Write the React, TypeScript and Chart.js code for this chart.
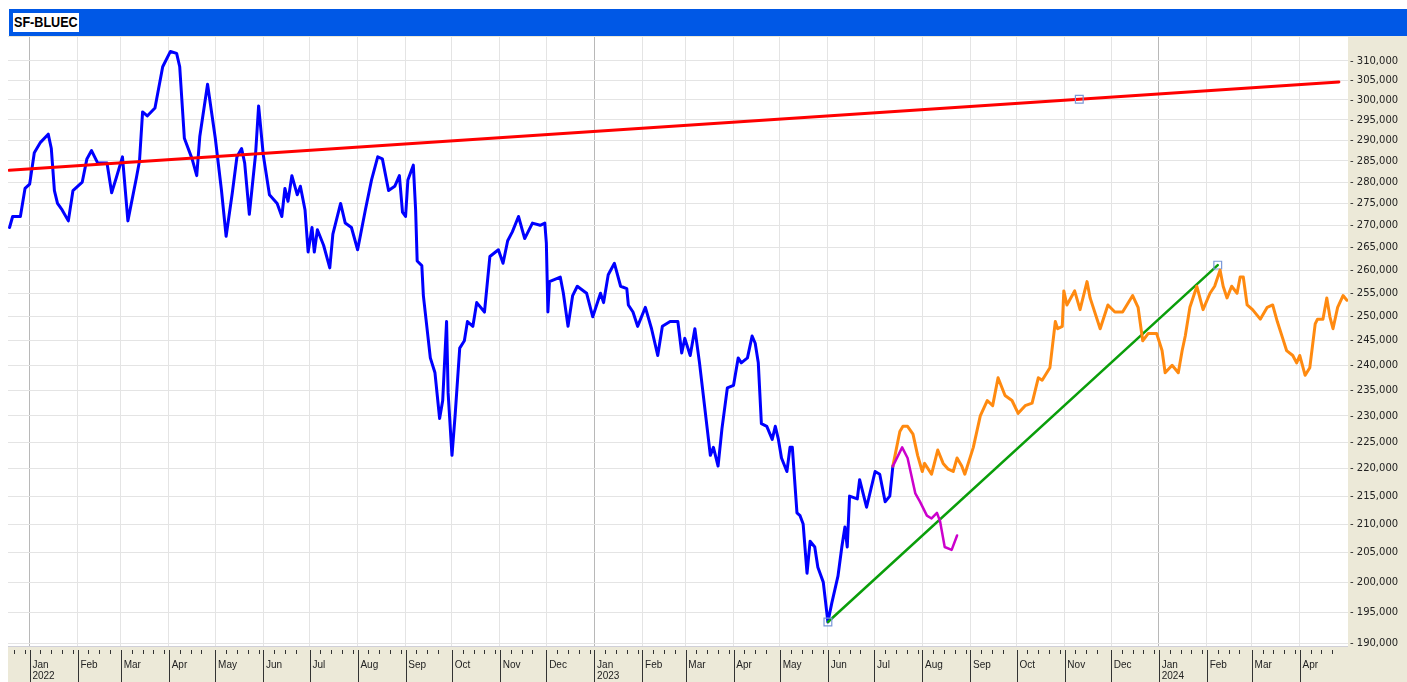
import { useEffect, useRef } from 'react';
import { Chart, registerables } from 'chart.js';

Chart.register(...registerables);

const SYMBOL = 'SF-BLUEC';
const VALUE_UNIT = 1000; // values below are in thousands

// x = calendar days since 2022-01-01
const blueDays = [-13, -11, -6, -3, 0, 3, 7, 12, 14, 16, 18, 21, 25, 28, 34, 37, 40, 44, 50, 53, 56, 60, 63.5, 69, 71, 73, 76, 81, 86, 91, 95, 97, 100, 105, 108, 110, 115, 120, 124, 127, 131, 134, 137, 139, 142, 146, 148, 151, 155, 160, 163, 165, 167, 169.5, 173, 175, 178, 180, 182.5, 184, 186, 190, 194, 196, 201, 204, 208, 212, 217, 221, 225, 228, 232, 236, 239, 241, 243, 244.5, 248, 249.5, 250.5, 253.5, 254.5, 259, 262, 265, 267, 269.5, 270.5, 273, 275, 278, 281, 283, 286.5, 289, 294, 297.5, 303, 306, 309, 312, 316, 320, 325, 330, 333, 334, 335, 336, 343, 345, 348, 351, 354, 360, 364, 369, 371, 374, 378, 382, 386, 387, 390, 393, 398, 402, 406, 409, 414, 419, 421.5, 423.5, 427, 430, 433, 438, 440, 442, 445, 447.5, 451, 455, 458, 460, 464, 467, 469, 471, 473, 476.5, 480, 482, 484, 486, 489.5, 491.5, 493, 496, 498, 500, 502.5, 504.5, 507.5, 509.5, 513, 516, 518.5, 522.5, 525, 527, 528.5, 530, 535, 536.5, 541, 546.5, 549.5, 553, 556, 558];
const blueValues = [269.5, 272, 272, 278.5, 279.5, 287, 289.5, 291.5, 288, 278, 275, 273.5, 271, 278, 280, 285.5, 287.5, 284.5, 284.5, 277.5, 281, 286, 271, 281, 285, 297, 296, 298, 308.5, 312.5, 312, 308.5, 290.5, 285.5, 281.5, 291, 304, 290.5, 278, 267.5, 277.5, 286, 288, 284.5, 272.5, 286.5, 298.5, 286.5, 277, 275, 272, 278.5, 275.5, 281.5, 277, 279, 273.5, 264, 269.5, 264, 269, 265.5, 260.5, 268, 275, 270.5, 269.5, 264.5, 273.5, 280.5, 286, 285.5, 278, 279, 281.5, 273, 272, 280.5, 284, 273.5, 262, 261, 254.5, 241.5, 238.5, 229.5, 233, 249, 234.5, 222.5, 230, 243.5, 245, 249, 248, 253, 251, 263, 264.5, 261.5, 266.5, 268.5, 272, 267, 270.5, 270, 270.5, 266, 251, 257.5, 258.5, 255, 248, 254.5, 256.5, 255, 250, 255, 253, 259, 261.5, 256.5, 256, 252.5, 251, 248, 252, 247.5, 242, 248, 249, 249, 242.5, 245.5, 242, 247.5, 240.5, 227.5, 222.5, 224, 220.5, 227.5, 235.5, 236, 241.5, 240.5, 241.5, 246, 244.5, 240.5, 228.5, 228, 225.5, 228, 225.5, 222, 219.5, 224, 224, 212, 211.5, 210, 201.5, 207, 206, 202.5, 200, 193.4, 196.5, 201, 206, 209.5, 206, 215, 214.5, 218, 213, 219.5, 219, 214, 215, 220.5];

const orangeDays = [558, 562.5, 564.5, 567.5, 571, 574, 577, 578.5, 583, 587, 590.5, 593.5, 597, 599.5, 602.5, 604.5, 610, 614.5, 619, 622.5, 626, 630.5, 635, 639, 643.5, 648, 652, 654.5, 659.5, 663, 664.5, 667.5, 668.5, 670.5, 675.5, 679, 683.5, 685.5, 692, 697, 701.5, 706.5, 713, 716.5, 719.5, 723, 728.5, 732, 734, 738.5, 742.5, 745, 747, 750, 754.5, 758.5, 763, 766, 769.5, 771.5, 774, 777, 780.5, 782.5, 784.5, 787, 790.5, 795.5, 800, 803.5, 806.5, 810, 812.5, 816.5, 819, 821, 824.5, 827.5, 831, 832.5, 836, 838.5, 840.5, 842.5, 845.5, 849, 851.5];
const orangeValues = [220.5, 227, 228, 228, 226.5, 222.5, 219.5, 221, 219, 223.5, 221, 220, 219.5, 222, 220.5, 219, 224, 230, 233, 232, 237.5, 234, 233, 230.5, 232, 232.5, 237.5, 237, 239.5, 249, 247.5, 248, 255.5, 252.5, 255.5, 251.5, 257.5, 254, 247.5, 252.5, 251, 251, 254.5, 252, 245, 246.5, 246.5, 243, 238.5, 240, 238.5, 243, 246, 252, 256.5, 251.5, 255, 256.5, 260, 256.5, 254, 256.5, 255, 258.5, 258.5, 252.5, 251.5, 249.5, 252, 252.5, 249, 245.5, 243, 242, 240.5, 242, 238, 239.5, 248.5, 249.5, 249.5, 254, 250, 247.5, 252, 254.5, 253.5];

const magentaDays = [558, 564, 567.5, 572.5, 575.5, 580, 583, 586.5, 588.5, 591.5, 596, 599.5];
const magentaValues = [220.5, 224, 222, 215.5, 214, 211.5, 211, 212, 210.5, 206, 205.5, 208];

const greenDays = [516, 768];
const greenValues = [193.4, 261.1];

const redDays = [-13.2, 678.5, 846.3];
const redValues = [282.8, 300.2, 304.6];
const redMarkers = [0, 1, 0];

const priceTicks = [190, 195, 200, 205, 210, 215, 220, 225, 230, 235, 240, 245, 250, 255, 260, 265, 270, 275, 280, 285, 290, 295, 300, 305, 310];

const monthStartDays = [0, 31, 59, 90, 120, 151, 181, 212, 243, 273, 304, 334, 365, 396, 424, 455, 485, 516, 546, 577, 608, 638, 669, 699, 730, 761, 790, 821];
const monthLabels = ['Jan', 'Feb', 'Mar', 'Apr', 'May', 'Jun', 'Jul', 'Aug', 'Sep', 'Oct', 'Nov', 'Dec', 'Jan', 'Feb', 'Mar', 'Apr', 'May', 'Jun', 'Jul', 'Aug', 'Sep', 'Oct', 'Nov', 'Dec', 'Jan', 'Feb', 'Mar', 'Apr'];
const yearStartDays = [0, 365, 730];
const yearLabels = ['2022', '2023', '2024'];
const PREV_MONTH_START = -31;
const NEXT_MONTH_START = 851;

const X_MIN = -14;
const X_MAX = 852.2;
const Y_MIN = 189.38;
const Y_MAX = 316.32;

const toPoints = (days: number[], vals: number[]) =>
  days.map((d, i) => ({ x: d, y: vals[i] * VALUE_UNIT }));

const noPad = (s: any) => {
  s.paddingLeft = 0;
  s.paddingRight = 0;
  s.paddingTop = 0;
  s.paddingBottom = 0;
};

const panelPlugin = {
  id: 'panels',
  beforeDraw(chart: any) {
    const { ctx, chartArea: a, width, height } = chart;
    ctx.save();
    ctx.fillStyle = '#ECE9D8';
    ctx.fillRect(0, 0, width, height);
    ctx.fillStyle = '#FFFFFF';
    ctx.fillRect(a.left, a.top, a.right - a.left, a.bottom - a.top);
    ctx.restore();
  },
  afterDraw(chart: any) {
    const { ctx, chartArea: a, height } = chart;
    const xs = chart.scales.x;
    ctx.save();
    ctx.lineWidth = 1;
    ctx.strokeStyle = '#cfcfd8';
    ctx.beginPath();
    ctx.moveTo(a.left, a.bottom - 0.5);
    ctx.lineTo(a.right, a.bottom - 0.5);
    ctx.stroke();
    ctx.strokeStyle = '#333333';
    const starts = [PREV_MONTH_START, ...monthStartDays, NEXT_MONTH_START];
    for (let m = 0; m < starts.length - 1; m++) {
      const s = starts[m];
      if (m > 0) {
        const px = Math.round(xs.getPixelForValue(s)) + 0.5;
        ctx.beginPath();
        ctx.moveTo(px, a.bottom + 3);
        ctx.lineTo(px, height);
        ctx.stroke();
      }
      for (let k = 1; k <= 4; k++) {
        const d = s + 7 * k;
        if (d >= starts[m + 1] - 2 || d < X_MIN || d > X_MAX) continue;
        const px = Math.round(xs.getPixelForValue(d)) + 0.5;
        ctx.beginPath();
        ctx.moveTo(px, a.bottom + 3);
        ctx.lineTo(px, a.bottom + 7);
        ctx.stroke();
      }
    }
    ctx.restore();
  },
};

export default function App() {
  const ref = useRef<HTMLCanvasElement>(null);

  useEffect(() => {
    const markerColor = '#7A98D8';
    const chart = new Chart(ref.current as HTMLCanvasElement, {
      type: 'line',
      data: {
        datasets: [
          {
            label: 'Trend',
            data: toPoints(redDays, redValues),
            borderColor: '#FF0000',
            borderWidth: 3,
            pointRadius: redMarkers.map((m) => (m ? 5.5 : 0)),
            pointStyle: 'rect',
            pointBorderColor: markerColor,
            pointBackgroundColor: 'rgba(255,255,255,0)',
            pointBorderWidth: 1.2,
            order: 0,
          },
          {
            label: 'Projection low',
            data: toPoints(magentaDays, magentaValues),
            borderColor: '#CC00CC',
            borderWidth: 2.5,
            pointRadius: 0,
            order: 1,
          },
          {
            label: 'Projection',
            data: toPoints(orangeDays, orangeValues),
            borderColor: '#FF8A10',
            borderWidth: 3,
            pointRadius: 0,
            order: 2,
          },
          {
            label: 'Support',
            data: toPoints(greenDays, greenValues),
            borderColor: '#0A9E0A',
            borderWidth: 2.5,
            pointRadius: 5.5,
            pointStyle: 'rect',
            pointBorderColor: markerColor,
            pointBackgroundColor: 'rgba(255,255,255,0)',
            pointBorderWidth: 1.2,
            order: 3,
          },
          {
            label: SYMBOL,
            data: toPoints(blueDays, blueValues),
            borderColor: '#0000FF',
            borderWidth: 3,
            pointRadius: 0,
            order: 4,
          },
        ],
      },
      options: {
        animation: false,
        responsive: false,
        events: [],
        elements: {
          line: { tension: 0, borderJoinStyle: 'round', borderCapStyle: 'round' },
        },
        layout: { autoPadding: false, padding: { top: 1, left: 0, right: 0, bottom: 0 } },
        plugins: {
          legend: { display: false },
          tooltip: { enabled: false },
          title: { display: false },
        },
        scales: {
          x: {
            type: 'linear',
            min: X_MIN,
            max: X_MAX,
            bounds: 'data',
            afterBuildTicks: (s: any) => {
              s.ticks = monthStartDays.map((v) => ({ value: v }));
            },
            afterFit: (s: any) => {
              s.height = 35;
              noPad(s);
            },
            grid: {
              color: (c: any) =>
                c.tick && yearStartDays.includes(c.tick.value) ? '#b8b8b8' : '#e4e4e4',
              lineWidth: 1,
              drawTicks: false,
            },
            border: { display: false },
            ticks: {
              autoSkip: false,
              maxRotation: 0,
              minRotation: 0,
              align: 'start',
              padding: 13,
              color: '#222222',
              font: { family: '"Liberation Sans", Arial, sans-serif', size: 10, lineHeight: 1.1 },
              callback: (_v: any, i: number) => {
                const yi = yearStartDays.indexOf(monthStartDays[i]);
                const name = ' ' + monthLabels[i];
                return yi >= 0 ? [name, ' ' + yearLabels[yi]] : name;
              },
            },
          },
          y: {
            type: 'logarithmic',
            position: 'right',
            min: Y_MIN * VALUE_UNIT,
            max: Y_MAX * VALUE_UNIT,
            bounds: 'data',
            afterBuildTicks: (s: any) => {
              s.ticks = priceTicks.map((v) => ({ value: v * VALUE_UNIT }));
            },
            afterFit: (s: any) => {
              s.width = 59;
              noPad(s);
            },
            grid: { color: '#e4e4e4', lineWidth: 1, drawTicks: false },
            border: { display: false },
            ticks: {
              padding: 2,
              color: '#222222',
              font: { family: '"DejaVu Sans", sans-serif', size: 10 },
              callback: (v: any) => '- ' + Number(v).toLocaleString('en-US'),
            },
          },
        },
      },
      plugins: [panelPlugin],
    } as any);
    return () => chart.destroy();
  }, []);

  return (
    <div
      style={{
        position: 'fixed',
        left: 8,
        top: 8,
        width: 1399,
        height: 674,
        overflow: 'hidden',
        background: '#ffffff',
      }}
    >
      <div
        style={{
          position: 'absolute',
          left: 1,
          top: 1,
          right: 0,
          height: 27,
          background: '#0058E6',
        }}
      >
        <div
          style={{
            position: 'absolute',
            left: 4,
            top: 4,
            width: 66,
            height: 19,
            background: '#ffffff',
            overflow: 'hidden',
          }}
        >
          <span
            style={{
              display: 'inline-block',
              color: '#000000',
              font: 'bold 14px "Liberation Sans", Arial, sans-serif',
              lineHeight: '19px',
              marginLeft: 1,
              whiteSpace: 'nowrap',
              transform: 'scaleX(0.9)',
              transformOrigin: '0 50%',
            }}
          >
            {SYMBOL}
          </span>
        </div>
      </div>
      <div style={{ position: 'absolute', left: 0, top: 28, width: 1399, height: 646 }}>
        <canvas ref={ref} width={1399} height={646} style={{ display: 'block' }} />
      </div>
    </div>
  );
}
